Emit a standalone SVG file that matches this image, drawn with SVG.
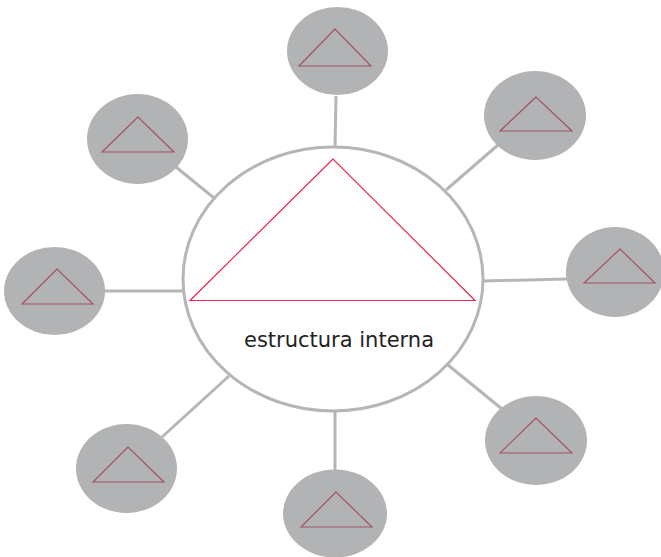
<svg xmlns="http://www.w3.org/2000/svg" width="661" height="557" viewBox="0 0 661 557">
<style>
.sat{fill:#b2b3b5;stroke:none}
.stri{fill:none;stroke:#a4506c;stroke-width:1.2;stroke-linejoin:miter}
.con{stroke:#b6b6b6;stroke-width:3;fill:none}
.lbl{font-family:"DejaVu Sans",Verdana,sans-serif;font-size:21px;fill:#222}
</style>
<rect width="661" height="557" fill="#fff"/>
<g id="connectors">
<line class="con" x1="336" y1="96" x2="335" y2="148"/>
<line class="con" x1="498" y1="145" x2="446" y2="190"/>
<line class="con" x1="567" y1="279" x2="483" y2="281"/>
<line class="con" x1="448" y1="365" x2="502" y2="409"/>
<line class="con" x1="335" y1="411" x2="335" y2="471"/>
<line class="con" x1="229" y1="376" x2="162" y2="437"/>
<line class="con" x1="104" y1="291" x2="183" y2="291"/>
<line class="con" x1="176" y1="167" x2="214" y2="198"/>
</g>
<g id="center">
<ellipse cx="333" cy="279" rx="150" ry="132" fill="#fff" stroke="#b6b6b6" stroke-width="3"/>
<polygon points="333,159 190,300.5 475,300.5" fill="none" stroke="#e8284e" stroke-width="1.2"/>
<text class="lbl" x="339" y="347" text-anchor="middle" textLength="190" lengthAdjust="spacingAndGlyphs">estructura interna</text>
</g>
<g id="sat-top">
<ellipse class="sat" cx="337.5" cy="51" rx="50.5" ry="44"/>
<polygon class="stri" points="335,29 299,66 371,66"/>
</g>
<g id="sat-topright">
<ellipse class="sat" cx="535" cy="115.5" rx="51" ry="44.5"/>
<polygon class="stri" points="536,97 500,131 572,131"/>
</g>
<g id="sat-right">
<ellipse class="sat" cx="615" cy="272" rx="49" ry="45"/>
<polygon class="stri" points="620,249 584,283 655,283"/>
</g>
<g id="sat-bottomright">
<ellipse class="sat" cx="536" cy="440.5" rx="51" ry="44.5"/>
<polygon class="stri" points="536,418 500,453 572,453"/>
</g>
<g id="sat-bottom">
<ellipse class="sat" cx="335" cy="513.5" rx="52" ry="44"/>
<polygon class="stri" points="336,492 301,527 372,527"/>
</g>
<g id="sat-bottomleft">
<ellipse class="sat" cx="126.5" cy="468.5" rx="50.5" ry="44.5"/>
<polygon class="stri" points="128,447 93,482 164,482"/>
</g>
<g id="sat-left">
<ellipse class="sat" cx="54.5" cy="291" rx="50.5" ry="44"/>
<polygon class="stri" points="57,269 22,304 93,304"/>
</g>
<g id="sat-topleft">
<ellipse class="sat" cx="137.5" cy="139" rx="50.5" ry="45"/>
<polygon class="stri" points="138,117 102,152 174,152"/>
</g>
</svg>
